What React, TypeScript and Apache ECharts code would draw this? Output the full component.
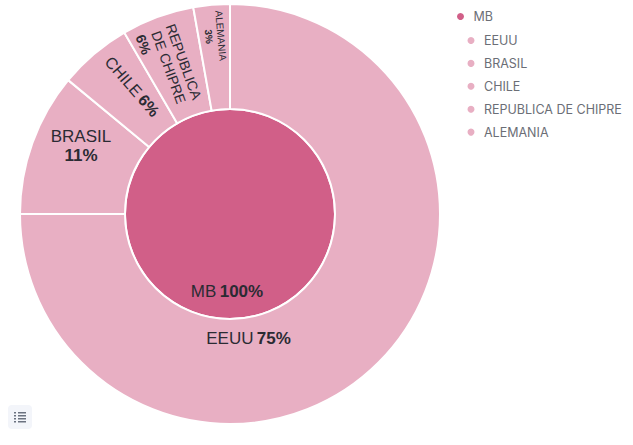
import React, { useEffect, useRef } from "react";
import * as echarts from "echarts";

const rootName = "MB";
const rootValue = 100;
const categories = ["EEUU", "BRASIL", "CHILE", "REPUBLICA DE CHIPRE", "ALEMANIA"];
const values = [75, 11, 5.6, 5.6, 2.8];

const DARK = "#D15F88";
const LIGHT = "#E8AFC3";
const TEXT = "#2b2b33";
const FONT = "'Liberation Sans', Arial, sans-serif";

const labelStyles: Record<string, any> = {
  EEUU: { size: 17, rotate: 0, text: "EEUU", inline: true, dx: -95, dy: 11 },
  BRASIL: { size: 17, rotate: 0, text: "BRASIL", inline: false, dx: 2, dy: -14 },
  CHILE: { size: 16, rotate: -49, text: "CHILE", inline: true, dx: 6, dy: -5 },
  "REPUBLICA DE CHIPRE": { size: 14, rotate: -70, text: "REPUBLICA\nDE CHIPRE", inline: false, dx: -6, dy: 4, lead: 60 },
  ALEMANIA: { size: 10, rotate: -85, text: "ALEMANIA", inline: false, dx: -1, dy: -18 },
};

// labelLayout offsets act in the label's rotated frame: convert from screen offsets.
function toLocal(dx: number, dy: number, rotate: number) {
  const t = (-rotate * Math.PI) / 180;
  return {
    dx: dx * Math.cos(t) + dy * Math.sin(t),
    dy: -dx * Math.sin(t) + dy * Math.cos(t),
  };
}

function richLabel(text: string, pct: string, inline: boolean, size: number, lead?: number) {
  const lines = text.split("\n").map((t) => `{n|${t}}`).join("\n");
  const lineHeight = size + 2;
  const tail = lead ? "{s| }" : "";
  return {
    formatter: `${lines}${inline ? " " : "\n"}{b|${pct}%}${tail}`,
    rich: {
      n: { fontSize: size, fontFamily: FONT, color: TEXT, lineHeight },
      b: { fontSize: size, fontFamily: FONT, color: TEXT, fontWeight: "bold", lineHeight },
      s: { fontSize: size, width: lead ?? 0, lineHeight },
    },
  };
}

export default function App() {
  const ref = useRef<HTMLDivElement>(null);
  useEffect(() => {
    const chart = echarts.init(ref.current!, null, { renderer: "svg" });
    const total = values.reduce((a, b) => a + b, 0);
    const legendBase = {
      orient: "vertical",
      icon: "circle",
      itemWidth: 9,
      itemHeight: 9,
      itemGap: 9.9,
      textStyle: { fontFamily: "Inter, sans-serif", fontSize: 12.5, color: "#6b6e76", padding: [0, 0, 0, 3.5] },
      selectedMode: false,
    };
    const center = [230, 214];
    chart.setOption({
      animation: false,
      legend: [
        { ...legendBase, left: 450, top: 5, data: [rootName] },
        { ...legendBase, left: 460.5, top: 29, data: categories },
      ],
      series: [
        {
          type: "pie",
          radius: [0, 105],
          center,
          startAngle: 90,
          silent: true,
          itemStyle: { color: DARK, borderColor: "#fff", borderWidth: 2 },
          labelLine: { show: false },
          labelLayout: () => ({ dx: -3, dy: 22 }),
          data: [
            {
              name: rootName,
              value: rootValue,
              label: { show: true, position: "inside", ...richLabel(rootName, "100", true, 17) },
            },
          ],
        },
        {
          type: "pie",
          radius: [105, 210],
          center,
          startAngle: 90,
          silent: true,
          itemStyle: { color: LIGHT, borderColor: "#fff", borderWidth: 2 },
          labelLine: { show: false },
          labelLayout: (p: any) => {
            const s = labelStyles[categories[p.dataIndex]];
            return toLocal(s.dx, s.dy, s.rotate);
          },
          data: categories.map((name, i) => {
            const s = labelStyles[name];
            return {
              name,
              value: values[i],
              label: {
                show: true,
                position: "inside",
                rotate: s.rotate,
                ...richLabel(s.text, ((values[i] / total) * 100).toFixed(0), s.inline, s.size, s.lead),
              },
            };
          }),
        },
      ],
      graphic: [
        {
          type: "group",
          silent: true,
          children: [
            { type: "rect", shape: { x: 8, y: 405, width: 24, height: 24, r: 4 }, style: { fill: "#f3f5fa" } },
            ...[0, 1, 2, 3].flatMap((k) => [
              { type: "rect", shape: { x: 14, y: 412 + k * 3, width: 2, height: 1.5 }, style: { fill: "#6b7280" } },
              { type: "rect", shape: { x: 18, y: 412 + k * 3, width: 8, height: 1.5 }, style: { fill: "#6b7280" } },
            ]),
          ],
        },
      ],
    });
    return () => chart.dispose();
  }, []);
  return <div ref={ref} style={{ width: 633, height: 445, position: "absolute", left: 0, top: 0 }} />;
}
